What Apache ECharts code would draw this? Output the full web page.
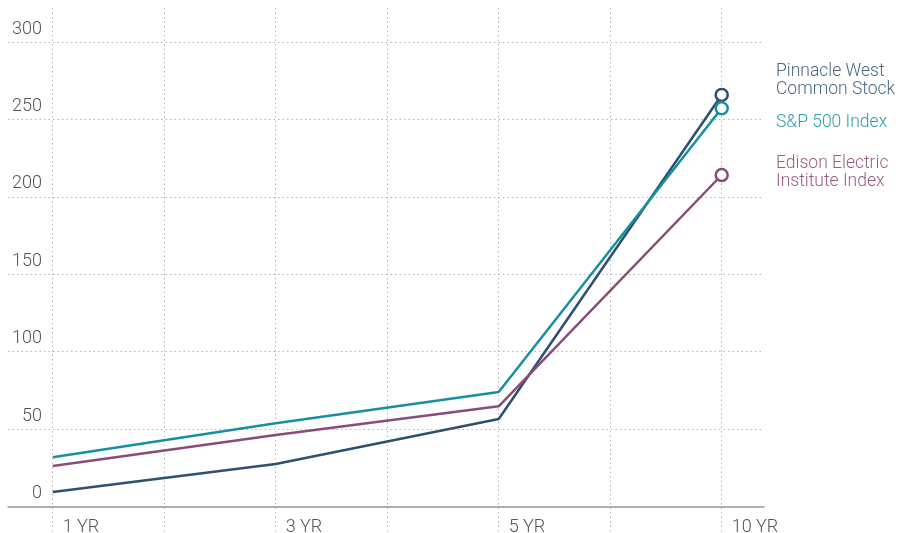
<!DOCTYPE html>
<html><head><meta charset="utf-8">
<script src="https://cdn.jsdelivr.net/npm/echarts@6/dist/echarts.min.js"></script>
<style>html,body{margin:0;padding:0;background:#fff}#c{width:899px;height:533px}</style>
</head><body><div id="c"></div>
<script>
const categories = ['1 YR', '2 YR', '3 YR', '4 YR', '5 YR', '6 YR', '10 YR'];
const tickLabels = ['1 YR', '', '3 YR', '', '5 YR', '', '10 YR'];
const yTicks = [0, 50, 100, 150, 200, 250, 300];
const pinnacle = [9.4, null, 27.5, null, 56.5, null, 265.8];
const sp500 = [31.8, null, 53.7, null, 74.0, null, 257.2];
const edison = [26.2, null, 46.2, null, 64.7, null, 214.1];
const seriesNames = ['Pinnacle West\nCommon Stock', 'S&P 500 Index', 'Edison Electric\nInstitute Index'];
const lineColors = ['#2f4f6f', '#1690a0', '#8b4b78'];
const textColors = ['#4a6783', '#2a9fab', '#9a5a85'];

const FONT = 'Roboto, "Open Sans", sans-serif';
const FW = 300;

function mk(name, data, color) {
  return {
    type: 'line', name: name, xAxisIndex: 0, yAxisIndex: 0,
    connectNulls: true, symbol: 'none', smooth: false,
    lineStyle: { color: color, width: 2.5 },
    itemStyle: { color: '#fff', borderColor: color, borderWidth: 2.5 },
    data: data.map((v, i) => i === data.length - 1
      ? { value: v, symbol: 'circle', symbolSize: 12 }
      : v),
    z: 5
  };
}

const chart = echarts.init(document.getElementById('c'), null, { renderer: 'canvas' });
chart.setOption({
  animation: false,
  backgroundColor: '#fff',
  grid: [
    { left: 52.7, right: 177.3, top: 42, bottom: 26.5, containLabel: false, outerBoundsMode: 'none' },
    { left: 8, right: 135, top: 42, bottom: 26.5, containLabel: false, outerBoundsMode: 'none' },
    { left: 52.7, right: 177.3, top: 8, bottom: 0, containLabel: false, outerBoundsMode: 'none' }
  ],
  xAxis: [
    { type: 'category', gridIndex: 0, data: categories, boundaryGap: false,
      axisLine: { show: false }, axisTick: { show: false }, splitLine: { show: false },
      axisLabel: { show: true, formatter: (v, i) => tickLabels[i], interval: 0,
        color: '#555', fontFamily: FONT, fontWeight: FW, fontSize: 18, align: 'left', margin: 12, padding: [0,0,0,10] } },
    { type: 'value', gridIndex: 1, min: 0, max: 1,
      axisLine: { show: true, lineStyle: { color: '#999', width: 1.5 } },
      axisTick: { show: false }, axisLabel: { show: false }, splitLine: { show: false } },
    { type: 'category', gridIndex: 2, data: categories, boundaryGap: false,
      axisLine: { show: false }, axisTick: { show: false }, axisLabel: { show: false },
      splitLine: { show: true, interval: 0, lineStyle: { color: '#b5b5b5', type: [1.5, 3], width: 1 } } }
  ],
  yAxis: [
    { type: 'value', gridIndex: 0, min: 0, max: 300, interval: 50,
      axisLine: { show: false }, axisTick: { show: false }, axisLabel: { show: false }, splitLine: { show: false } },
    { type: 'value', gridIndex: 1, min: 0, max: 300, interval: 50,
      axisLine: { show: false }, axisTick: { show: false },
      axisLabel: { show: true, inside: true, align: 'right', margin: 34, verticalAlign: 'bottom',
        color: '#555', fontFamily: FONT, fontWeight: FW, fontSize: 18, lineHeight: 18, padding: [0, 0, 4, 0],
        formatter: v => yTicks.indexOf(v) >= 0 ? String(v) : '' },
      splitLine: { show: true, lineStyle: { color: '#b5b5b5', type: [1.5, 3], width: 1 } } },
    { type: 'value', gridIndex: 2, min: 0, max: 1, show: false }
  ],
  series: [
    mk(seriesNames[0], pinnacle, lineColors[0]),
    mk(seriesNames[1], sp500, lineColors[1]),
    mk(seriesNames[2], edison, lineColors[2])
  ],
  graphic: [
    { type: 'text', left: 776, top: 63, style: { text: seriesNames[0], fill: textColors[0], font: FW + ' 17.5px ' + FONT, lineHeight: 18 } },
    { type: 'text', left: 776, top: 114, style: { text: seriesNames[1], fill: textColors[1], font: FW + ' 17.5px ' + FONT, lineHeight: 18 } },
    { type: 'text', left: 776, top: 155, style: { text: seriesNames[2], fill: textColors[2], font: FW + ' 17.5px ' + FONT, lineHeight: 18 } }
  ]
});
</script></body></html>
